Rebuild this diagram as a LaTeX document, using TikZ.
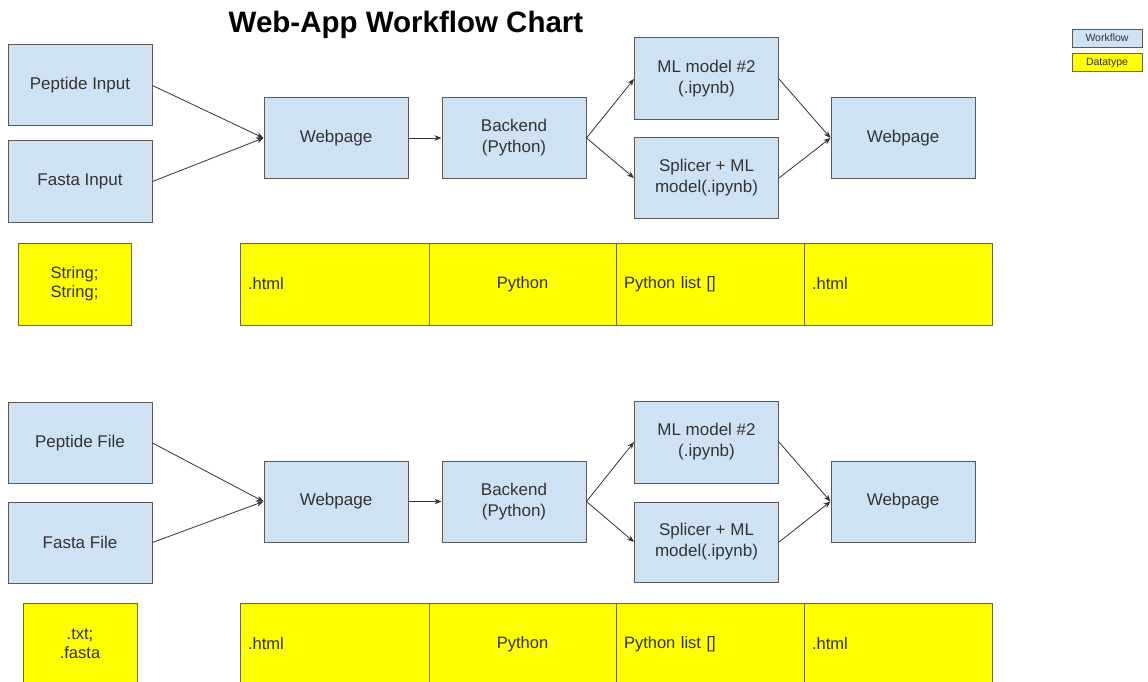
\documentclass[tikz,border=0pt]{standalone}
\usepackage{fontspec}
\setmainfont{Liberation Sans}
\usepackage{xcolor}
\usepackage{tikz}
\usetikzlibrary{arrows.meta}

\definecolor{flowblue}{HTML}{CFE2F3}
\definecolor{edgegray}{HTML}{595959}
\definecolor{olivegray}{HTML}{6B6B3A}
\definecolor{txtgray}{HTML}{333333}
\definecolor{datayellow}{HTML}{FFFF00}

\begin{document}
\begin{tikzpicture}[x=1pt, y=-1pt,
                   flow/.style={draw=edgegray, fill=flowblue, line width=1pt, inner sep=0pt,
                                minimum width=144pt, minimum height=81pt, align=center,
                                text=txtgray, font=\fontsize{17}{21}\selectfont},
                   dtype/.style={draw=olivegray, fill=datayellow, line width=1pt, inner ysep=0pt,
                                 inner xsep=8pt, minimum height=82pt, text=txtgray,
                                 font=\fontsize{16.5}{19}\selectfont},
                   key/.style={draw=edgegray, line width=0.7pt, minimum width=70pt, inner sep=0pt,
                               minimum height=18pt, text=txtgray, font=\fontsize{10.5}{12}\selectfont},
                   link/.style={-{Stealth[length=7pt,width=5.5pt]}, draw=txtgray, line width=0.8pt}]
  \useasboundingbox (0,0) rectangle (1148,682);

  \node[font=\fontsize{29.5}{33}\selectfont\bfseries] (title) at (406,25) {Web-App Workflow Chart};

  \node[key, fill=flowblue] (kflow) at (1107,38) {Workflow};
  \node[key, fill=datayellow, draw=olivegray] (kdata) at (1107,62.5) {Datatype};

  % text input
  \node[flow] (pin) at (80,85.5) {Peptide Input};
  \node[flow] (fin) at (80,181.5) {Fasta Input};
  \node[flow] (webA) at (336,138) {Webpage};
  \node[flow] (backA) at (514,138) {Backend\\(Python)};
  \node[flow, minimum height=82pt] (mlA) at (706.5,79) {ML model \#2\\(.ipynb)};
  \node[flow, minimum height=80pt] (splA) at (706.5,178) {Splicer + ML\\model(.ipynb)};
  \node[flow] (outA) at (903,138) {Webpage};

  \draw[link] (pin.east) -- (webA.west);
  \draw[link] (fin.east) -- (webA.west);
  \draw[link] (webA.east) -- (backA.west);
  \draw[link] (backA.east) -- (mlA.west);
  \draw[link] (backA.east) -- (splA.west);
  \draw[link] (mlA.east) -- (outA.west);
  \draw[link] (splA.east) -- (outA.west);

  \node[dtype, minimum width=113pt, align=center] (strA) at (74.5,284) {String;\\String;};
  \node[dtype, text width=173pt, align=left] (htmA) at (334.5,284) {.html};
  \node[dtype, text width=171pt, align=center] (pyA) at (522.5,284) {Python};
  \node[dtype, text width=172pt, align=left] (lstA) at (710,284) {Python list []};
  \node[dtype, text width=172pt, align=left] (resA) at (898,284) {.html};

  % file input
  \node[flow] (pfl) at (80,443) {Peptide File};
  \node[flow] (ffl) at (80,542.5) {Fasta File};
  \node[flow] (webB) at (336,501.5) {Webpage};
  \node[flow] (backB) at (514,501.5) {Backend\\(Python)};
  \node[flow, minimum height=82pt] (mlB) at (706.5,442) {ML model \#2\\(.ipynb)};
  \node[flow, minimum height=80pt] (splB) at (706.5,542) {Splicer + ML\\model(.ipynb)};
  \node[flow] (outB) at (903,501.5) {Webpage};

  \draw[link] (pfl.east) -- (webB.west);
  \draw[link] (ffl.east) -- (webB.west);
  \draw[link] (webB.east) -- (backB.west);
  \draw[link] (backB.east) -- (mlB.west);
  \draw[link] (backB.east) -- (splB.west);
  \draw[link] (mlB.east) -- (outB.west);
  \draw[link] (splB.east) -- (outB.west);

  \node[dtype, minimum width=114pt, align=center] (txtB) at (80,644) {.txt;\\.fasta};
  \node[dtype, text width=173pt, align=left] (htmB) at (334.5,644) {.html};
  \node[dtype, text width=171pt, align=center] (pyB) at (522.5,644) {Python};
  \node[dtype, text width=172pt, align=left] (lstB) at (710,644) {Python list []};
  \node[dtype, text width=172pt, align=left] (resB) at (898,644) {.html};
\end{tikzpicture}
\end{document}
